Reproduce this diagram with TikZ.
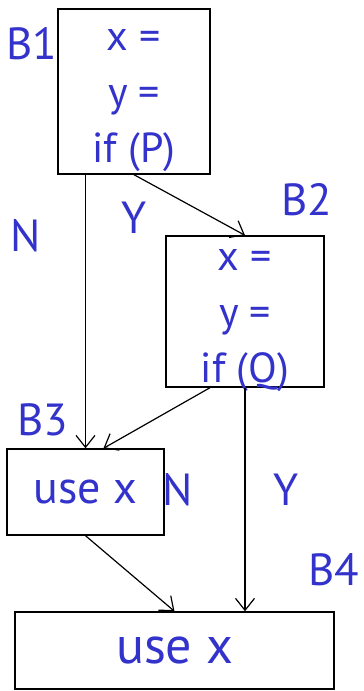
\documentclass[tikz,border=0pt]{standalone}
\usepackage{fontspec}
\setmainfont{PT Sans}
\usepackage{tikz}
\usetikzlibrary{positioning, arrows.meta, calc}
\definecolor{blocktext}{RGB}{51,51,204}

\begin{document}
\begin{tikzpicture}[x=1pt, y=1pt,
            block/.style={draw=black, line width=1.4pt, rectangle, inner sep=0pt, text=blocktext, align=center},
            stmt/.style={text=blocktext, inner sep=0pt, align=center, font=\fontsize{42}{56}\selectfont},
            edge/.style={line width=1.2pt, -{Straight Barb[length=12pt, width=19pt]}},
            blabel/.style={text=blocktext, inner sep=0pt, font=\fontsize{45}{45}\selectfont}
        ]
        \useasboundingbox (0,0) rectangle (364,-691);

        % blocks
        \node[block, minimum width=152pt, minimum height=165pt] (b1) at (134,-91.5) {};
        \node[stmt] (b1txt) at ([yshift=-9pt]b1.center) {x =\\y =\\if (P)};
        \node[block, minimum width=158pt, minimum height=151pt] (b2) at (245,-311.5) {};
        \node[stmt] (b2txt) at ([yshift=-9pt]b2.center) {x =\\y =\\if (Q)};
        \node[block, minimum width=157pt, minimum height=86pt, font=\fontsize{46}{46}\selectfont] (b3) at (85.5,-492) {use x};
        \node[block, minimum width=319pt, minimum height=77pt, font=\fontsize{52}{52}\selectfont] (b4) at (174.5,-650.5) {use x};

        % labels
        \node[blabel] (lb1) at (32,-44) {B1};
        \node[blabel] (lb2) at (307,-200) {B2};
        \node[blabel] (lb3) at (43,-420) {B3};
        \node[blabel] (lb4) at (334,-570) {B4};
        \node[blabel] (ln1) at (26,-236) {N};
        \node[blabel] (ly1) at (134,-218) {Y};
        \node[blabel] (ln2) at (178,-490) {N};
        \node[blabel] (ly2) at (286,-490) {Y};

        % edges
        \draw[edge] (b1.south -| b3.north) -- (b3.north);
        \draw[edge] (b1.south) -- (b2.north);
        \draw[edge] ([xshift=-35pt]b2.south) -- ([xshift=18pt]b3.north);
        \draw[edge] (b2.south) -- (b2.south |- b4.north);
        \draw[edge] (b3.south) -- (b4.north);

    \end{tikzpicture}
\end{document}
